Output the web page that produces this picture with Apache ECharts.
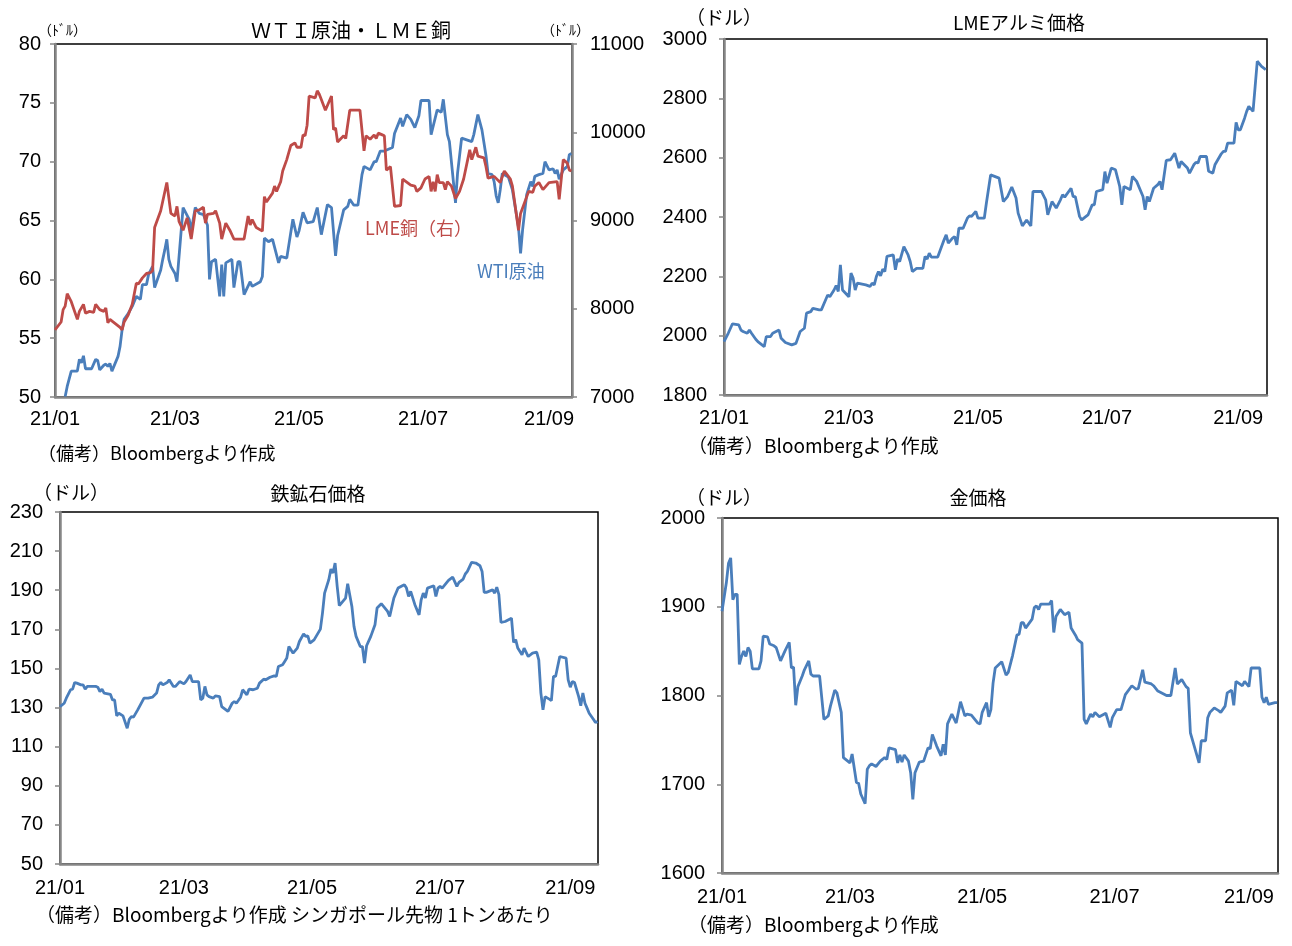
<!DOCTYPE html>
<html>
<head>
<meta charset="utf-8">
<script src="https://cdn.jsdelivr.net/npm/echarts@6.0.0/dist/echarts.min.js"></script>
<style>
  body { margin: 0; background: #fff; }
  #main { width: 1292px; height: 946px; }
</style>
</head>
<body>
<div id="main"></div>
<script>
// x values are days since 2021-01-01
const tickDays = [0, 59, 120, 181, 243];
const tickLabels = ['21/01', '21/03', '21/05', '21/07', '21/09'];

// WTI crude (left axis, $)
const wtiDay = [
  5, 6, 8, 11, 12, 13, 14, 15, 18, 20,
  21, 22, 24, 25, 26, 27, 28, 31, 32, 33,
  34, 36, 38, 40, 42, 43, 45, 46, 48, 49,
  52, 53, 54, 55, 56, 57, 59, 60, 63, 66,
  67, 69, 71, 73, 75, 76, 77, 79, 81, 82,
  83, 84, 87, 88, 90, 91, 93, 96, 97, 101,
  102, 103, 105, 107, 110, 111, 114, 117, 119, 120,
  122, 124, 127, 129, 131, 134, 136, 138, 139, 142,
  144, 145, 147, 149, 151, 152, 155, 157, 158, 160,
  162, 166, 167, 170, 171, 173, 175, 177, 179, 180,
  184, 185, 188, 190, 191, 193, 194, 197, 198, 200,
  205, 206, 208, 210, 212, 213, 215, 216, 217, 218,
  219, 220, 223, 225, 228, 229, 230, 232, 234, 235,
  236, 238, 240, 241, 243, 245, 246, 247, 248, 250,
  252, 253, 254
];
const wtiVal = [
  50.05, 50.9, 52.2, 52.2, 53.2, 52.9, 53.5, 52.4, 52.4, 53.2,
  53.1, 52.3, 52.7, 52.8, 52.6, 52.85, 52.2, 53.45, 54.3, 55.7,
  56.6, 57.1, 57.7, 58.55, 58.3, 59.55, 59.55, 60.4, 61.1, 59.3,
  60.8, 61.7, 62.5, 63.4, 61.7, 61.1, 60.5, 59.8, 66.1, 65.1,
  64.1, 66.1, 65.6, 65.5, 64.6, 60.0, 61.5, 61.7, 58.55, 61.25,
  58.55, 61.4, 61.7, 59.3, 61.5, 61.5, 58.7, 59.8, 59.4, 59.8,
  60.25, 63.5, 63.2, 63.4, 61.4, 61.95, 61.8, 65.1, 63.6, 64.1,
  65.7, 64.8, 64.9, 66.1, 63.8, 66.35, 66.1, 62.0, 63.7, 65.9,
  66.2, 66.8, 66.3, 66.3, 68.9, 69.6, 69.3, 70.0, 70.0, 70.9,
  70.9, 71.2, 72.4, 73.7, 73.0, 74.0, 73.6, 72.9, 73.9, 75.2,
  75.2, 72.3, 74.4, 74.2, 75.3, 72.3, 71.7, 66.5, 69.0, 72.0,
  71.7, 72.3, 74.0, 72.7, 70.5, 69.0, 68.9, 68.3, 67.1, 66.5,
  67.6, 69.0, 68.7, 67.6, 64.4, 62.2, 64.2, 67.2, 68.3, 67.9,
  68.75, 68.9, 69.0, 70.0, 69.3, 69.4, 69.0, 69.3, 68.5, 69.3,
  69.6, 70.6, 70.7
];

// LME copper (right axis, $)
const copperDay = [
  0, 3, 4, 5, 6, 8, 11, 12, 14, 15,
  17, 19, 20, 22, 24, 25, 26, 27, 32, 33,
  34, 36, 38, 40, 41, 43, 45, 47, 48, 49,
  52, 55, 57, 59, 60, 61, 63, 65, 67, 69,
  71, 73, 74, 75, 78, 79, 81, 82, 84, 86,
  88, 93, 95, 96, 97, 99, 102, 103, 104, 107,
  108, 109, 111, 112, 114, 116, 118, 119, 121, 122,
  123, 124, 125, 128, 129, 130, 131, 133, 136, 137,
  138, 139, 142, 143, 145, 147, 150, 152, 153, 155,
  157, 158, 159, 161, 162, 163, 165, 167, 170, 171,
  175, 177, 178, 180, 182, 184, 185, 186, 187, 188,
  189, 191, 192, 193, 195, 197, 199, 201, 204, 205,
  207, 208, 211, 212, 213, 216, 219, 221, 222, 224,
  225, 228, 229, 233, 235, 236, 238, 240, 243, 247,
  248, 250, 252, 253, 254
];
const copperVal = [
  7760, 7850, 7990, 8030, 8170, 8080, 7880, 7970, 8050, 7950,
  7970, 7960, 8050, 7990, 7970, 8010, 7840, 7880, 7790, 7760,
  7850, 7930, 8050, 8290, 8280, 8350, 8400, 8410, 8430, 8920,
  9110, 9430, 9080, 9050, 9160, 8990, 8890, 9030, 8790, 9110,
  9120, 9150, 8970, 9070, 9080, 9110, 8970, 8790, 8970, 8890,
  8790, 8790, 9050, 8950, 9010, 8920, 8880, 9270, 9210, 9310,
  9390, 9330, 9440, 9560, 9690, 9850, 9880, 9830, 9830, 9970,
  9960, 10080, 10410, 10390, 10470, 10430, 10370, 10250, 10410, 10030,
  10050, 9890, 9960, 9930, 10250, 10250, 10250, 9790, 9960, 9920,
  9970, 9930, 9990, 9970, 9960, 9570, 9610, 9160, 9170, 9470,
  9400, 9390, 9330, 9370, 9470, 9500, 9330, 9440, 9330, 9520,
  9430, 9430, 9350, 9440, 9390, 9250, 9330, 9470, 9800, 9690,
  9830, 9730, 9710, 9610, 9480, 9500, 9430, 9560, 9530, 9470,
  9390, 8890, 9080, 9330, 9320, 9390, 9430, 9350, 9430, 9440,
  9240, 9690, 9650, 9570, 9560
];

// LME aluminium ($)
const aluDay = [
  0, 2, 4, 7, 8, 9, 11, 12, 13, 15,
  16, 19, 20, 22, 23, 26, 27, 29, 32, 34,
  36, 38, 39, 41, 42, 45, 46, 49, 50, 52,
  53, 54, 55, 56, 59, 60, 61, 62, 63, 67,
  69, 70, 71, 72, 73, 74, 75, 76, 77, 80,
  81, 82, 83, 85, 87, 88, 89, 91, 94, 95,
  96, 97, 98, 101, 104, 105, 106, 108, 109, 110,
  111, 113, 115, 116, 117, 119, 120, 123, 124, 126,
  130, 132, 134, 136, 138, 139, 141, 143, 145, 146,
  150, 152, 153, 155, 157, 159, 160, 161, 164, 165,
  166, 168, 169, 172, 174, 175, 176, 179, 180, 181,
  183, 185, 187, 188, 189, 192, 193, 195, 198, 199,
  200, 201, 203, 205, 206, 207, 209, 211, 213, 215,
  216, 219, 220, 222, 223, 224, 225, 228, 229, 231,
  232, 235, 236, 237, 238, 241, 242, 243, 244, 246,
  247, 248, 250, 251, 252, 254, 256
];
const aluVal = [
  1980, 2008, 2040, 2036, 2019, 2014, 2008, 2019, 2008, 1988,
  1980, 1963, 1997, 1997, 2008, 2019, 1991, 1977, 1969, 1974,
  2014, 2025, 2076, 2081, 2092, 2087, 2087, 2137, 2131, 2154,
  2169, 2149, 2239, 2154, 2131, 2211, 2194, 2154, 2177, 2171,
  2166, 2177, 2171, 2199, 2216, 2202, 2224, 2216, 2267, 2272,
  2222, 2258, 2250, 2300, 2272, 2250, 2216, 2227, 2227, 2267,
  2258, 2278, 2265, 2265, 2323, 2340, 2312, 2329, 2334, 2306,
  2362, 2362, 2396, 2404, 2402, 2419, 2396, 2396, 2447, 2542,
  2531, 2452, 2469, 2501, 2464, 2413, 2370, 2390, 2370, 2486,
  2486, 2458, 2407, 2452, 2430, 2458, 2475, 2467, 2497, 2469,
  2469, 2402, 2390, 2407, 2441, 2441, 2486, 2492, 2553, 2514,
  2565, 2559, 2503, 2441, 2503, 2492, 2537, 2520, 2469, 2424,
  2469, 2452, 2497, 2509, 2520, 2492, 2591, 2593, 2615, 2565,
  2587, 2565, 2548, 2576, 2584, 2582, 2604, 2604, 2554, 2548,
  2576, 2613, 2621, 2621, 2649, 2649, 2719, 2694, 2694, 2733,
  2756, 2773, 2756, 2840, 2925, 2908, 2897
];

// iron ore, Singapore futures ($/t)
const ironDay = [
  0, 2, 3, 5, 6, 7, 8, 10, 11, 12,
  13, 17, 18, 19, 20, 21, 24, 25, 26, 27,
  28, 30, 32, 33, 34, 35, 37, 40, 42, 44,
  46, 47, 48, 49, 51, 52, 54, 55, 57, 59,
  60, 62, 63, 66, 67, 68, 69, 70, 71, 73,
  74, 76, 77, 80, 82, 83, 84, 86, 87, 89,
  90, 92, 94, 95, 97, 98, 100, 102, 103, 104,
  106, 107, 108, 109, 111, 113, 114, 116, 117, 118,
  119, 121, 124, 125, 126, 128, 129, 130, 131, 132,
  133, 136, 137, 139, 140, 141, 143, 144, 145, 146,
  148, 150, 151, 153, 156, 157, 159, 161, 163, 164,
  165, 166, 167, 169, 171, 172, 173, 174, 175, 178,
  179, 180, 181, 182, 185, 187, 189, 190, 192, 193,
  194, 196, 198, 200, 201, 202, 203, 206, 207, 208,
  209, 210, 212, 215, 216, 217, 218, 220, 221, 223,
  225, 227, 228, 229, 230, 231, 233, 234, 235, 236,
  238, 241, 242, 243, 244, 245, 247, 248, 249, 250,
  251, 252, 254, 255, 256
];
const ironVal = [
  130.5, 132.2, 134.8, 139.1, 139.4, 142.8, 142.5, 141.6, 141.6, 139.4,
  140.8, 140.8, 140.4, 138.2, 139.4, 137.4, 136.8, 133.9, 133.9, 125.75,
  127.1, 125.75, 119.4, 124.0, 125.4, 125.1, 128.8, 134.8, 134.8, 135.3,
  137.4, 141.6, 142.8, 141.6, 142.8, 144.2, 140.8, 140.8, 143.3, 142.1,
  143.3, 146.7, 143.3, 143.3, 133.9, 134.8, 140.8, 136.5, 135.6, 134.8,
  136.0, 135.6, 130.5, 128.0, 132.2, 133.1, 132.2, 135.3, 139.1, 136.5,
  139.4, 139.1, 139.9, 142.5, 144.5, 144.2, 145.5, 146.2, 145.9, 151.0,
  151.9, 153.6, 155.3, 161.2, 157.8, 160.4, 163.8, 167.7, 166.4, 166.7,
  162.9, 164.6, 170.1, 178.3, 188.5, 195.4, 200.8, 198.8, 203.9, 192.0,
  182.1, 186.0, 193.3, 181.7, 171.5, 166.4, 161.2, 161.2, 152.7, 161.6,
  166.4, 172.3, 180.9, 183.1, 179.2, 176.6, 186.0, 191.1, 192.3, 192.8,
  191.1, 186.8, 189.4, 182.6, 177.4, 185.1, 188.5, 186.0, 191.1, 192.3,
  186.8, 191.1, 192.0, 191.1, 195.0, 196.7, 192.0, 194.0, 195.7, 198.3,
  199.6, 204.2, 203.9, 202.5, 199.6, 188.9, 188.9, 190.2, 188.5, 191.6,
  187.7, 173.5, 174.0, 175.7, 163.3, 164.7, 160.4, 157.0, 160.4, 156.1,
  157.8, 158.3, 154.4, 137.4, 128.8, 135.6, 134.3, 133.6, 145.9, 145.9,
  156.1, 155.3, 144.2, 140.4, 143.3, 142.8, 135.6, 130.9, 137.4, 132.2,
  129.7, 127.1, 124.0, 122.3, 122.9
];

// gold ($/oz)
const goldDay = [
  0, 2, 3, 4, 5, 6, 7, 8, 9, 10,
  11, 12, 13, 14, 17, 18, 19, 21, 22, 24,
  25, 27, 29, 31, 32, 33, 34, 35, 37, 38,
  40, 41, 42, 45, 47, 49, 50, 52, 53, 55,
  56, 58, 59, 60, 62, 63, 64, 66, 67, 68,
  69, 71, 73, 75, 76, 77, 80, 81, 82, 83,
  84, 86, 87, 88, 89, 91, 93, 95, 96, 97,
  99, 101, 102, 103, 104, 106, 108, 110, 112, 113,
  115, 118, 119, 120, 122, 123, 124, 125, 126, 129,
  131, 132, 134, 136, 137, 138, 139, 140, 143, 144,
  145, 146, 147, 151, 152, 153, 154, 156, 158, 160,
  161, 163, 164, 166, 167, 168, 170, 171, 172, 174,
  177, 179, 180, 182, 184, 186, 189, 191, 192, 194,
  195, 198, 199, 201, 205, 207, 209, 210, 212, 214,
  215, 216, 220, 221, 223, 224, 225, 227, 229, 230,
  232, 233, 235, 236, 237, 240, 241, 243, 244, 248,
  249, 250, 251, 252, 255, 256
];
const goldVal = [
  1895, 1927, 1949, 1955, 1908, 1914, 1914, 1835, 1844, 1850,
  1844, 1854, 1850, 1830, 1830, 1839, 1867, 1866, 1858, 1856,
  1854, 1839, 1850, 1860, 1831, 1832, 1789, 1810, 1822, 1829,
  1839, 1824, 1822, 1822, 1773, 1777, 1788, 1806, 1803, 1781,
  1730, 1726, 1724, 1734, 1702, 1701, 1689, 1678, 1717, 1721,
  1723, 1720, 1726, 1730, 1728, 1741, 1739, 1724, 1733, 1725,
  1733, 1726, 1713, 1683, 1713, 1725, 1726, 1741, 1740, 1756,
  1743, 1732, 1745, 1733, 1768, 1779, 1769, 1793, 1777, 1779,
  1778, 1769, 1768, 1781, 1792, 1776, 1784, 1814, 1831, 1838,
  1823, 1826, 1845, 1868, 1869, 1882, 1882, 1876, 1886, 1899,
  1901, 1897, 1903, 1903, 1907, 1871, 1889, 1897, 1891, 1894,
  1876, 1868, 1863, 1859, 1773, 1768, 1779, 1776, 1781, 1776,
  1780, 1764, 1775, 1784, 1784, 1801, 1811, 1807, 1808, 1829,
  1815, 1813, 1811, 1805, 1800, 1800, 1831, 1813, 1818, 1810,
  1808, 1758, 1724, 1749, 1749, 1775, 1781, 1786, 1783, 1781,
  1788, 1803, 1806, 1789, 1816, 1811, 1816, 1810, 1831, 1831,
  1798, 1792, 1798, 1790, 1792, 1792
];

const BLUE = '#4A7EBB';
const RED = '#BE4B48';
const AXIS_GREY = '#868686';
const NUM_FONT = '"Liberation Sans Narrow", "Liberation Sans", "Noto Sans CJK JP", sans-serif';
const JP_FONT = '"Noto Sans CJK JP", sans-serif';

function pairs(days, vals) {
  return days.map((d, i) => [d, vals[i]]);
}

function xAxis(grid, max, margin) {
  return {
    type: 'value', gridIndex: grid, min: 0, max: max,
    axisLine: { show: true, onZero: false, lineStyle: { color: AXIS_GREY, width: 2.5 } },
    axisTick: { show: false },
    splitLine: { show: false },
    axisLabel: {
      customValues: tickDays,
      formatter: v => tickLabels[tickDays.indexOf(v)] || '',
      color: '#000', fontSize: 20, fontFamily: NUM_FONT, margin: margin
    }
  };
}

function yAxis(grid, min, max, step, margin, pos) {
  return {
    type: 'value', gridIndex: grid, min: min, max: max, interval: step,
    position: pos || 'left',
    axisLine: { show: true, lineStyle: { color: AXIS_GREY, width: 2.5 } },
    axisTick: { show: true, length: 5, lineStyle: { color: AXIS_GREY, width: 1.5 } },
    splitLine: { show: false },
    axisLabel: {
      color: '#000', fontSize: 20, fontFamily: NUM_FONT, margin: margin,
      formatter: v => String(v)
    }
  };
}

function line(name, x, y, data, color) {
  return {
    name: name, type: 'line', xAxisIndex: x, yAxisIndex: y, data: data,
    showSymbol: false, symbol: 'none', clip: true,
    lineStyle: { color: color, width: 2.8 }, itemStyle: { color: color }
  };
}

function txt(text, x, y, size, color, align) {
  return {
    type: 'text', x: x, y: y, silent: true,
    style: {
      text: text, fill: color || '#000', font: size + 'px ' + JP_FONT,
      textAlign: align || 'left', textVerticalAlign: 'middle'
    }
  };
}

const chart = echarts.init(document.getElementById('main'), null, { renderer: 'canvas' });

const option = {
  animation: false,
  backgroundColor: '#fff',
  grid: [
    { left: 55, top: 44, width: 517, height: 353, show: true, borderColor: '#000', borderWidth: 1.5 },
    { left: 724, top: 39, width: 543, height: 356, show: true, borderColor: '#000', borderWidth: 1.5 },
    { left: 60, top: 512, width: 538, height: 352, show: true, borderColor: '#000', borderWidth: 1.5 },
    { left: 722, top: 518, width: 556, height: 355, show: true, borderColor: '#000', borderWidth: 1.5 }
  ],
  xAxis: [
    xAxis(0, 254.3, 12),
    xAxis(1, 256.6, 13),
    xAxis(2, 256.2, 14),
    xAxis(3, 256.4, 14)
  ],
  yAxis: [
    yAxis(0, 50, 80, 5, 14),
    yAxis(0, 7000, 11000, 1000, 18, 'right'),
    yAxis(1, 1800, 3000, 200, 17),
    yAxis(2, 50, 230, 20, 17),
    yAxis(3, 1600, 2000, 100, 17)
  ],
  series: [
    line('WTI原油', 0, 0, pairs(wtiDay, wtiVal), BLUE),
    line('LME銅', 0, 1, pairs(copperDay, copperVal), RED),
    line('LMEアルミ', 1, 2, pairs(aluDay, aluVal), BLUE),
    line('鉄鉱石', 2, 3, pairs(ironDay, ironVal), BLUE),
    line('金', 3, 4, pairs(goldDay, goldVal), BLUE)
  ],
  graphic: [
    // top-left
    txt('ＷＴＩ原油・ＬＭＥ銅', 351, 30, 20, '#000', 'center'),
    txt('（ﾄﾞﾙ）', 38, 30, 14),
    txt('（ﾄﾞﾙ）', 541, 30, 14),
    txt('LME銅（右）', 365, 228, 18, RED),
    txt('WTI原油', 477, 271, 18, BLUE),
    txt('（備考）Bloombergより作成', 38, 453, 18),
    // top-right
    txt('LMEアルミ価格', 1019, 23, 19, '#000', 'center'),
    txt('（ドル）', 686, 18, 19),
    txt('（備考）Bloombergより作成', 688, 446, 19),
    // bottom-left
    txt('鉄鉱石価格', 318, 494, 19, '#000', 'center'),
    txt('（ドル）', 33, 493, 19),
    txt('（備考）Bloombergより作成 シンガポール先物 1トンあたり', 36, 915, 19),
    // bottom-right
    txt('金価格', 978, 498, 19, '#000', 'center'),
    txt('（ドル）', 686, 498, 19),
    txt('（備考）Bloombergより作成', 688, 925, 19)
  ]
};

chart.setOption(option);
</script>
</body>
</html>
